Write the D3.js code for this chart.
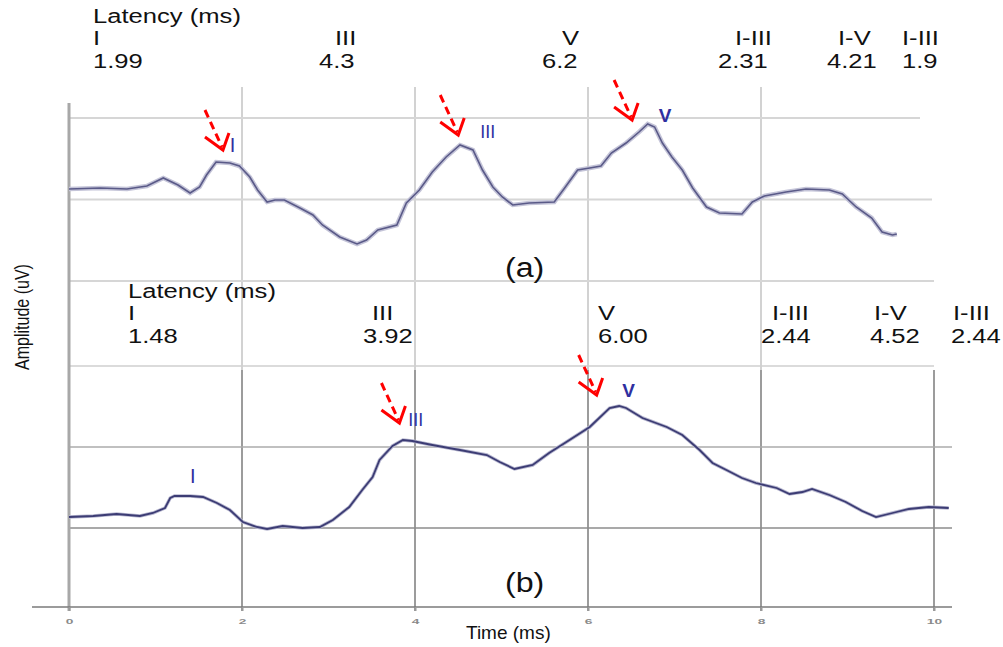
<!DOCTYPE html>
<html>
<head>
<meta charset="utf-8">
<script src="https://cdn.jsdelivr.net/npm/d3@7"></script>
<style>
  html, body { margin: 0; padding: 0; background: #fff; }
  svg { display: block; font-family: "Liberation Sans", Arial, sans-serif; }
</style>
</head>
<body>
<svg id="chart" width="1003" height="647"></svg>
<script>
(function () {
    'use strict';

    const WIDTH = 1003;
    const HEIGHT = 647;

    // trace (a): time in ms, amplitude (arbitrary uV units)
    const timeA = [0.00, 0.36, 0.67, 0.90, 1.09, 1.26, 1.40, 1.51, 1.59, 1.70, 1.86, 1.97, 2.09, 2.18, 2.29, 2.38,
        2.49, 2.67, 2.82, 2.93, 3.13, 3.33, 3.44, 3.57, 3.79, 3.90, 4.05, 4.20, 4.36, 4.52, 4.67, 4.78, 4.90,
        5.01, 5.13, 5.32, 5.61, 5.73, 5.88, 6.02, 6.15, 6.27, 6.44, 6.59, 6.69, 6.77, 6.86, 6.97, 7.09, 7.21,
        7.37, 7.52, 7.78, 7.90, 8.04, 8.29, 8.52, 8.79, 8.94, 9.10, 9.28, 9.40, 9.52, 9.57];
    const ampA = [0.92, 0.93, 0.92, 0.95, 1.03, 0.96, 0.88, 0.94, 1.06, 1.19, 1.18, 1.15, 1.04, 0.91, 0.79, 0.81,
        0.81, 0.73, 0.66, 0.56, 0.44, 0.37, 0.41, 0.51, 0.56, 0.78, 0.91, 1.09, 1.24, 1.36, 1.31, 1.11, 0.94,
        0.84, 0.76, 0.78, 0.79, 0.93, 1.11, 1.13, 1.15, 1.28, 1.38, 1.49, 1.57, 1.54, 1.38, 1.24, 1.11, 0.93,
        0.74, 0.68, 0.67, 0.79, 0.85, 0.89, 0.92, 0.91, 0.87, 0.74, 0.63, 0.49, 0.46, 0.47];

    // trace (b)
    const timeB = [0.00, 0.28, 0.55, 0.82, 0.97, 1.11, 1.17, 1.22, 1.40, 1.55, 1.71, 1.86, 2.01, 2.17, 2.29, 2.47,
        2.70, 2.90, 3.05, 3.24, 3.39, 3.51, 3.59, 3.74, 3.86, 3.97, 4.20, 4.52, 4.83, 4.98, 5.15, 5.36, 5.55,
        5.75, 6.02, 6.25, 6.36, 6.44, 6.63, 6.91, 7.09, 7.29, 7.44, 7.60, 7.78, 7.94, 8.18, 8.33, 8.48, 8.59,
        8.79, 8.98, 9.17, 9.33, 9.52, 9.71, 9.94, 10.17];
    const ampB = [0.11, 0.12, 0.14, 0.12, 0.15, 0.20, 0.30, 0.32, 0.32, 0.31, 0.25, 0.18, 0.06, 0.01, -0.01, 0.02,
        0.00, 0.01, 0.08, 0.21, 0.38, 0.51, 0.68, 0.82, 0.88, 0.87, 0.83, 0.78, 0.73, 0.66, 0.59, 0.63, 0.75,
        0.86, 1.01, 1.20, 1.22, 1.20, 1.10, 1.01, 0.93, 0.78, 0.65, 0.58, 0.50, 0.45, 0.40, 0.34, 0.36, 0.39,
        0.33, 0.26, 0.17, 0.11, 0.15, 0.19, 0.21, 0.20];

    const xTicks = [0, 2, 4, 6, 8, 10];
    const gridAmpA = [0, 0.815, 1.63];
    const gridAmpB = [0, 0.81, 1.62];

    const latencyNames = ['I', 'III', 'V', 'I-III', 'I-V', 'I-III'];
    const latencyA = ['1.99', '4.3', '6.2', '2.31', '4.21', '1.9'];
    const latencyB = ['1.48', '3.92', '6.00', '2.44', '4.52', '2.44'];

    const peakNames = ['I', 'III', 'V'];
    const peakTimeA = [1.89, 4.84, 6.89];
    const peakAmpA = [1.29, 1.43, 1.59];
    const peakTimeB = [1.43, 4.01, 6.47];
    const peakAmpB = [0.45, 1.02, 1.31];

    const arrowTimeA = [1.78, 4.50, 6.51];
    const arrowAmpA = [1.31, 1.46, 1.61];
    const arrowTimeB = [3.82, 6.10];
    const arrowAmpB = [1.05, 1.33];

    // layout of the latency tables
    const nameXA = [93, 335, 562, 735, 838, 902];
    const valXA = [93, 319, 542, 718, 827, 902];
    const nameXB = [128, 372, 598, 772, 874, 953];
    const valXB = [128, 363, 598, 761, 870, 951];

    const svg = d3.select('#chart').attr('width', WIDTH).attr('height', HEIGHT);

    const x = d3.scaleLinear().domain([0, 10]).range([69, 934]);
    const yA = d3.scaleLinear().domain([0, 1.63]).range([281, 118]);
    const yB = d3.scaleLinear().domain([0, 1.62]).range([528, 366]);

    function wideText(g, str, px, py, size, sx) {
        return g.append('text')
            .attr('transform', `translate(${px},${py}) scale(${sx},1)`)
            .attr('font-size', size)
            .attr('fill', '#111')
            .text(str);
    }

    // ---- grid ----
    const grid = svg.append('g');

    // vertical lines, upper part light, lower part darker
    grid.selectAll('.vtop').data(xTicks.filter(d => d > 0 && d < 10)).join('line')
        .attr('x1', d => x(d)).attr('x2', d => x(d))
        .attr('y1', 87).attr('y2', 370)
        .attr('stroke', '#d2d2d2').attr('stroke-width', 2);
    grid.selectAll('.vbot').data(xTicks.filter(d => d > 0)).join('line')
        .attr('x1', d => x(d)).attr('x2', d => x(d))
        .attr('y1', 370).attr('y2', 611)
        .attr('stroke', '#9c9c9c').attr('stroke-width', 2);

    const rightA = [920, 932, 934];
    grid.selectAll('.ha').data(gridAmpA).join('line')
        .attr('x1', x(0)).attr('x2', (d, i) => rightA[2 - i])
        .attr('y1', d => yA(d)).attr('y2', d => yA(d))
        .attr('stroke', '#d6d6d6').attr('stroke-width', 2);

    const rightB = [952, 952, 934];
    const colB = ['#8c8c8c', '#ababab', '#cfcfcf'];
    grid.selectAll('.hb').data(gridAmpB).join('line')
        .attr('x1', x(0)).attr('x2', (d, i) => rightB[i])
        .attr('y1', d => yB(d)).attr('y2', d => yB(d))
        .attr('stroke', (d, i) => colB[i]).attr('stroke-width', 1.6);

    // left axis
    grid.append('line')
        .attr('x1', x(0)).attr('x2', x(0)).attr('y1', 103).attr('y2', 611)
        .attr('stroke', '#a8a8a8').attr('stroke-width', 3);

    // bottom axis
    grid.append('line')
        .attr('x1', 32).attr('x2', 952).attr('y1', 607).attr('y2', 607)
        .attr('stroke', '#7a7a7a').attr('stroke-width', 1.6);

    const xAxis = svg.append('g')
        .attr('transform', 'translate(0,607)')
        .call(d3.axisBottom(x).tickValues(xTicks).tickSize(4));
    xAxis.select('.domain').remove();
    xAxis.selectAll('.tick line').attr('stroke', '#999').attr('stroke-width', 2);
    // blurry, vertically squashed tick numbers
    xAxis.selectAll('.tick text')
        .attr('x', 0).attr('y', 0).attr('dy', null)
        .attr('text-anchor', 'middle')
        .attr('transform', 'translate(0,17) scale(1.15,0.6)')
        .attr('font-size', 12).attr('font-weight', 'bold')
        .attr('fill', '#8a8a8a');

    // ---- traces ----
    const lineA = d3.line().x((d, i) => x(timeA[i])).y(d => yA(d));
    const lineB = d3.line().x((d, i) => x(timeB[i])).y(d => yB(d));

    svg.append('path').attr('d', lineA(ampA))
        .attr('fill', 'none').attr('stroke', '#c4c4d8').attr('stroke-width', 4.5);
    svg.append('path').attr('d', lineA(ampA))
        .attr('fill', 'none').attr('stroke', '#5a5a88').attr('stroke-width', 1.6);

    svg.append('path').attr('d', lineB(ampB))
        .attr('fill', 'none').attr('stroke', '#b8b8d0').attr('stroke-width', 3.5);
    svg.append('path').attr('d', lineB(ampB))
        .attr('fill', 'none').attr('stroke', '#3c3c74').attr('stroke-width', 1.8);

    // ---- peak labels ----
    function peaks(times, amps, yS, sizes) {
        svg.append('g').selectAll('text').data(peakNames).join('text')
            .attr('x', (d, i) => x(times[i]))
            .attr('y', (d, i) => yS(amps[i]))
            .attr('text-anchor', 'middle')
            .attr('font-size', (d, i) => sizes[i])
            .attr('font-weight', (d, i) => i === 2 ? 'bold' : 'normal')
            .attr('fill', '#2f2fa0')
            .text(d => d);
    }
    peaks(peakTimeA, peakAmpA, yA, [20, 18, 19]);
    peaks(peakTimeB, peakAmpB, yB, [20, 18, 19]);

    // ---- red dashed arrows ----
    function arrows(times, amps, yS) {
        const g = svg.append('g')
            .attr('stroke', '#ff0000').attr('stroke-width', 3)
            .attr('fill', 'none').attr('stroke-linecap', 'butt');
        times.forEach(function (t, i) {
            const tx = x(t), ty = yS(amps[i]);
            g.append('line')
                .attr('x1', tx - 18).attr('y1', ty - 40)
                .attr('x2', tx - 1).attr('y2', ty - 3)
                .attr('stroke-dasharray', '8,5');
            g.append('path')
                .attr('d', `M${tx - 18},${ty - 13}L${tx},${ty}L${tx + 6},${ty - 17}`);
        });
    }
    arrows(arrowTimeA, arrowAmpA, yA);
    arrows(arrowTimeB, arrowAmpB, yB);

    // ---- latency tables ----
    const txt = svg.append('g');
    wideText(txt, 'Latency (ms)', 93, 23, 20, 1.28);
    latencyNames.forEach(function (n, i) {
        wideText(txt, n, nameXA[i], 45, 20, 1.28);
        wideText(txt, latencyA[i], valXA[i], 68, 20, 1.28);
    });
    wideText(txt, 'Latency (ms)', 128, 298, 20, 1.28);
    latencyNames.forEach(function (n, i) {
        wideText(txt, n, nameXB[i], 320, 20, 1.28);
        wideText(txt, latencyB[i], valXB[i], 343, 20, 1.28);
    });

    wideText(txt, '(a)', 505, 277, 28, 1.15);
    wideText(txt, '(b)', 505, 592, 28, 1.15);

    txt.append('text')
        .attr('x', 466).attr('y', 639)
        .attr('font-size', 19).attr('fill', '#111')
        .text('Time (ms)');

    txt.append('text')
        .attr('transform', 'translate(29,317) rotate(-90) scale(0.8,1)')
        .attr('text-anchor', 'middle')
        .attr('font-size', 20).attr('fill', '#111')
        .text('Amplitude (uV)');
})();
</script>
</body>
</html>
